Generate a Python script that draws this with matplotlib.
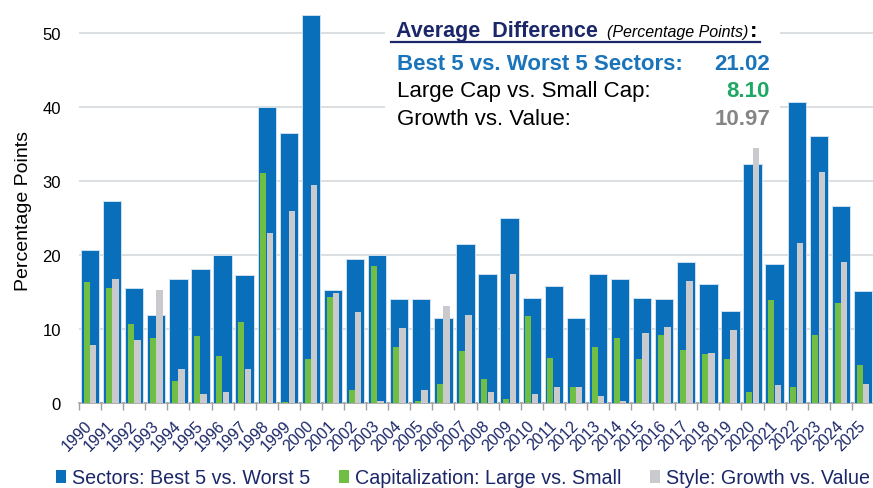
import matplotlib
matplotlib.use("Agg")
import matplotlib.pyplot as plt
from matplotlib.patches import Rectangle, Patch
from matplotlib.lines import Line2D
import numpy as np

plt.rcParams["font.family"] = ["Liberation Sans", "DejaVu Sans"]

years = [str(y) for y in range(1990, 2026)]
sectors = [20.6, 27.3, 15.5, 11.9, 16.7, 18.1, 20.0, 17.3, 39.9, 36.4, 52.4, 15.2,
           19.4, 20.0, 14.0, 14.0, 11.5, 21.5, 17.4, 25.0, 14.2, 15.8, 11.5, 17.4,
           16.7, 14.2, 14.0, 19.1, 16.1, 12.4, 32.3, 18.8, 40.6, 36.1, 26.6, 15.1]
cap = [16.3, 15.5, 10.7, 8.8, 3.0, 9.1, 6.4, 10.9, 31.0, 0.1, 6.0, 14.3,
       1.7, 18.5, 7.5, 0.3, 2.5, 7.0, 3.2, 0.6, 11.8, 6.1, 2.2, 7.6,
       8.8, 5.9, 9.2, 7.2, 6.6, 6.0, 1.5, 13.9, 2.2, 9.2, 13.5, 5.1]
style = [7.8, 16.7, 8.5, 15.2, 4.6, 1.2, 1.5, 4.6, 23.0, 25.9, 29.4, 14.8,
         12.3, 0.3, 10.1, 1.8, 13.1, 11.9, 1.5, 17.4, 1.2, 2.2, 2.2, 0.9,
         0.3, 9.4, 10.3, 16.5, 6.75, 9.85, 34.4, 2.4, 21.6, 31.2, 19.0, 2.5]

series_names = ["Sectors: Best 5 vs. Worst 5", "Capitalization: Large vs. Small",
                "Style: Growth vs. Value"]
avg_labels = ["Best 5 vs. Worst 5 Sectors:", "Large Cap vs. Small Cap:", "Growth vs. Value:"]
avg_values = ["21.02", "8.10", "10.97"]

BLUE = "#0a6fba"
GREEN = "#70bf44"
GRAY = "#c8cacd"
NAVY = "#1b2768"
TXT_BLUE = "#1a74bb"
TXT_GREEN = "#1fa865"
TXT_GRAY = "#858585"

W, H = 873, 489
fig = plt.figure(figsize=(W / 100, H / 100), dpi=100)
ax = fig.add_axes([79 / W, (H - 404) / H, 795 / W, 400 / H])

x = np.arange(len(years))
ax.bar(x, sectors, width=0.83, color=BLUE, edgecolor="#cfe1f1", linewidth=0.7, zorder=3)
ax.bar(x - 0.15, cap, width=0.27, color=GREEN, linewidth=0, zorder=4)
ax.bar(x + 0.145, style, width=0.29, color=GRAY, linewidth=0, zorder=4)

ax.set_xlim(-0.5, len(years) - 0.5)
ax.set_ylim(0, 54)
ax.set_yticks([0, 10, 20, 30, 40, 50])
ax.yaxis.grid(True, color="#d9dcdf", linewidth=1.3)
ax.set_axisbelow(True)
for s in ["top", "right", "left"]:
    ax.spines[s].set_visible(False)
ax.spines["bottom"].set_color("#a0a0a0")
ax.spines["bottom"].set_linewidth(1.2)
ax.tick_params(axis="y", length=0, pad=13, labelsize=12)

ax.set_xticks(x)
ax.set_xticklabels(years, rotation=45, ha="right", va="center",
                   rotation_mode="anchor", color=NAVY, fontsize=11.5)
ax.set_xticks(np.arange(-0.5, len(years)), minor=True)
ax.tick_params(axis="x", which="major", length=0, pad=14)
ax.tick_params(axis="x", which="minor", length=5, color="#a0a0a0", width=1)

fig.text(24 / W, 1 - 211 / H, "Percentage Points", rotation=90, ha="center",
         va="center", fontsize=14)

# white box behind the averages
ax.add_patch(Rectangle((385 / W, 1 - 138 / H), 395 / W, 130 / H, transform=fig.transFigure,
                       facecolor="white", edgecolor="none", zorder=2))

fig.text(396 / W, 1 - 37 / H, "Average  Difference", fontsize=15.5, fontweight="bold",
         color=NAVY, va="baseline")
fig.text(607 / W, 1 - 37 / H, "(Percentage Points)", fontsize=11.5, style="italic",
         color="black", va="baseline")
fig.text(750 / W, 1 - 37 / H, ":", fontsize=16, fontweight="bold", color="black",
         va="baseline")
fig.add_artist(Line2D([391 / W, 760 / W], [1 - 43 / H, 1 - 43 / H], color=NAVY,
                      linewidth=1.6, transform=fig.transFigure))

row_y = [70, 97.5, 125.5]
row_styles = [(TXT_BLUE, "bold"), ("black", "normal"), ("black", "normal")]
val_colors = [TXT_BLUE, TXT_GREEN, TXT_GRAY]
for lab, val, yy, (c, fw), vc in zip(avg_labels, avg_values, row_y, row_styles, val_colors):
    fig.text(397 / W, 1 - yy / H, lab, fontsize=16, fontweight=fw, color=c, va="baseline")
    fig.text(770 / W, 1 - yy / H, val, fontsize=16, fontweight="bold", color=vc,
             va="baseline", ha="right")

handles = [Patch(facecolor=c, edgecolor="none") for c in (BLUE, GREEN, GRAY)]
leg = fig.legend(handles, series_names, loc="center", bbox_to_anchor=(463 / W, 10 / H),
                 ncol=3, frameon=False, fontsize=14.2, handlelength=0.5, handleheight=0.68,
                 handletextpad=0.3, columnspacing=1.45, borderpad=0, borderaxespad=0)
for t in leg.get_texts():
    t.set_color(NAVY)

fig.savefig("out.png", dpi=100)
